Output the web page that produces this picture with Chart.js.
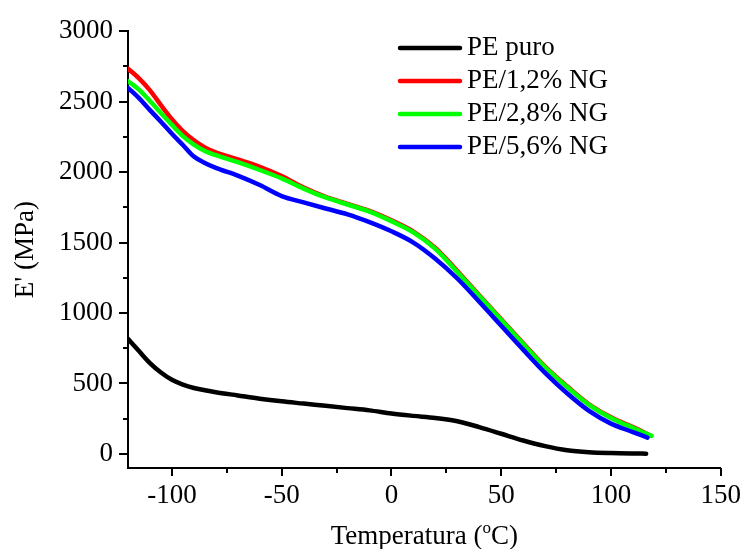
<!DOCTYPE html>
<html>
<head>
<meta charset="utf-8">
<script src="https://cdn.jsdelivr.net/npm/chart.js@4.4.0/dist/chart.umd.min.js"></script>
<style>
  html, body { margin: 0; padding: 0; background: #fff; }
  #wrap { width: 753px; height: 549px; }
</style>
</head>
<body>
<div id="wrap"><canvas id="chart" width="753" height="549"></canvas></div>
<script>
// Temperatura (°C) - pontos comuns
const tempsBase = [-120, -115, -110, -105, -100, -95, -90, -85, -80, -70, -60, -50, -40, -30, -20, -10, 0, 10, 20, 30, 40, 50, 60, 70, 80, 90, 100, 110];

// E' (MPa) por amostra
const pePuro = [817, 730, 645, 578, 526, 492, 468, 452, 438, 415, 392, 373, 357, 341, 325, 309, 287, 270, 255, 232, 190, 143, 95, 55, 26, 12, 6, 3, 2];
const pe12 = [2734, 2665, 2580, 2475, 2375, 2290, 2225, 2175, 2140, 2090, 2038, 1972, 1890, 1825, 1775, 1725, 1658, 1578, 1462, 1298, 1126, 956, 786, 620, 480, 352, 260, 190, 130];
const pe28 = [2645, 2585, 2505, 2420, 2335, 2255, 2195, 2150, 2120, 2070, 2015, 1955, 1883, 1820, 1770, 1720, 1652, 1572, 1455, 1290, 1120, 950, 780, 615, 475, 348, 255, 185, 128];
const pe56 = [2598, 2525, 2440, 2358, 2272, 2192, 2110, 2065, 2030, 1975, 1908, 1830, 1785, 1742, 1700, 1645, 1580, 1500, 1385, 1245, 1080, 910, 740, 575, 430, 305, 215, 155, 116];

// ultima temperatura de cada curva
const tempsPuro = tempsBase.concat([116]);
const temps12 = tempsBase.concat([118]);
const temps28 = tempsBase.concat([118.5]);
const temps56 = tempsBase.concat([116.6]);

const seriesNames = ['PE puro', 'PE/1,2% NG', 'PE/2,8% NG', 'PE/5,6% NG'];
const seriesColors = ['#000000', '#ff0000', '#00ff00', '#0000ff'];

const xMajor = [-100, -50, 0, 50, 100, 150];
const xMinor = [-75, -25, 25, 75, 125];
const yMajor = [0, 500, 1000, 1500, 2000, 2500, 3000];
const yMinor = [250, 750, 1250, 1750, 2250, 2750];

const FONT = "'Liberation Serif', 'Times New Roman', serif";

function toPoints(xs, ys) {
    return xs.map((x, i) => ({x: x, y: ys[i]}));
}

function makeSet(i, xs, ys, order) {
    return {
        label: seriesNames[i],
        data: toPoints(xs, ys),
        borderColor: seriesColors[i],
        backgroundColor: seriesColors[i],
        borderWidth: 4.5,
        pointRadius: 0,
        cubicInterpolationMode: 'monotone',
        borderCapStyle: 'round',
        borderJoinStyle: 'round',
        order: order
    };
}

// ticks, legenda e titulo do eixo x
const decorPlugin = {
    id: 'decor',
    afterDraw(chart) {
        const ctx = chart.ctx;
        const xs = chart.scales.x;
        const ys = chart.scales.y;
        const area = chart.chartArea;
        ctx.save();

        // marcas dos eixos
        ctx.strokeStyle = '#000';
        ctx.lineWidth = 2;
        ctx.beginPath();
        xMajor.forEach(v => {
            const p = Math.round(xs.getPixelForValue(v));
            ctx.moveTo(p, area.bottom); ctx.lineTo(p, area.bottom + 8);
        });
        xMinor.forEach(v => {
            const p = Math.round(xs.getPixelForValue(v));
            ctx.moveTo(p, area.bottom); ctx.lineTo(p, area.bottom + 5);
        });
        yMajor.forEach(v => {
            const p = Math.round(ys.getPixelForValue(v));
            ctx.moveTo(area.left, p); ctx.lineTo(area.left - 9, p);
        });
        yMinor.forEach(v => {
            const p = Math.round(ys.getPixelForValue(v));
            ctx.moveTo(area.left, p); ctx.lineTo(area.left - 5, p);
        });
        ctx.stroke();

        // legenda
        ctx.font = '27px ' + FONT;
        ctx.textBaseline = 'middle';
        ctx.textAlign = 'left';
        ctx.lineCap = 'round';
        ctx.lineWidth = 4.5;
        seriesNames.forEach((name, i) => {
            const y = 48 + i * 33;
            ctx.strokeStyle = seriesColors[i];
            ctx.beginPath();
            ctx.moveTo(400, y); ctx.lineTo(460, y);
            ctx.stroke();
            ctx.fillStyle = '#000';
            ctx.fillText(name, 467, y);
        });

        // titulo eixo x com "o" sobrescrito
        const big = '27px ' + FONT;
        const small = '17px ' + FONT;
        const partA = 'Temperatura (';
        const partB = 'o';
        const partC = 'C)';
        ctx.textBaseline = 'alphabetic';
        ctx.font = big;
        const wA = ctx.measureText(partA).width;
        const wC = ctx.measureText(partC).width;
        ctx.font = small;
        const wB = ctx.measureText(partB).width;
        const total = wA + wB + wC;
        let x = (area.left + area.right) / 2 - total / 2;
        const base = 544;
        ctx.fillStyle = '#000';
        ctx.font = big;
        ctx.fillText(partA, x, base);
        x += wA;
        ctx.font = small;
        ctx.fillText(partB, x, base - 11);
        x += wB;
        ctx.font = big;
        ctx.fillText(partC, x, base);

        ctx.restore();
    }
};

const ctx = document.getElementById('chart');
new Chart(ctx, {
    type: 'line',
    data: {
        datasets: [
            makeSet(0, tempsPuro, pePuro, 4),
            makeSet(1, temps12, pe12, 3),
            makeSet(2, temps28, pe28, 2),
            makeSet(3, temps56, pe56, 1)
        ]
    },
    options: {
        responsive: false,
        animation: false,
        devicePixelRatio: 1,
        layout: { padding: { top: 25, right: 23, left: 0, bottom: 0 } },
        plugins: {
            legend: { display: false },
            tooltip: { enabled: false }
        },
        scales: {
            x: {
                type: 'linear',
                min: -120,
                max: 150,
                afterBuildTicks: s => { s.ticks = xMajor.map(v => ({value: v})); },
                afterFit: s => { s.height = 81; },
                grid: { display: false, drawTicks: false },
                border: { display: true, color: '#000', width: 2 },
                ticks: {
                    color: '#000',
                    padding: 12,
                    font: { family: FONT, size: 27 },
                    callback: v => String(v)
                }
            },
            y: {
                type: 'linear',
                min: -100,
                max: 3000,
                afterBuildTicks: s => { s.ticks = yMajor.map(v => ({value: v})); },
                afterFit: s => { s.width = 128; },
                grid: { display: false, drawTicks: false },
                border: { display: true, color: '#000', width: 2 },
                title: {
                    display: true,
                    text: "E' (MPa)",
                    color: '#000',
                    font: { family: FONT, size: 27 },
                    padding: { top: 10, bottom: 0 }
                },
                ticks: {
                    color: '#000',
                    padding: 15,
                    font: { family: FONT, size: 27 },
                    callback: v => String(v)
                }
            }
        }
    },
    plugins: [decorPlugin]
});
</script>
</body>
</html>
